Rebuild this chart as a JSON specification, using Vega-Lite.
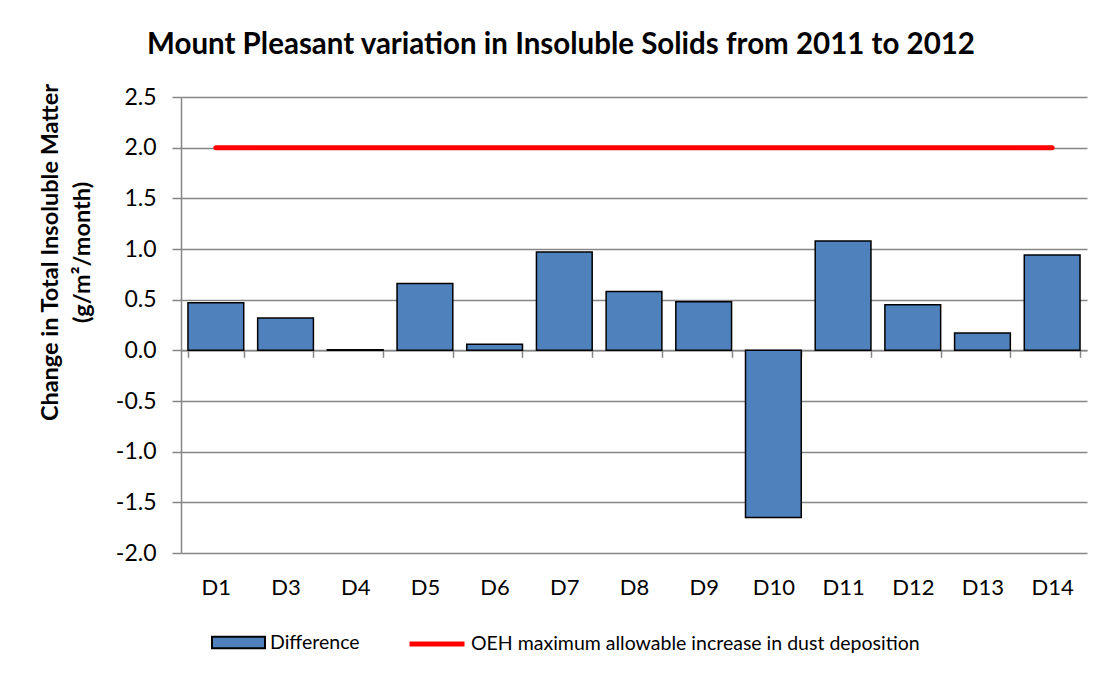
{
  "$schema": "https://vega.github.io/schema/vega-lite/v6.json",
  "width": 906,
  "height": 456,
  "autosize": "none",
  "padding": {"left": 181, "top": 97, "right": 22, "bottom": 121},
  "background": "white",
  "config": {
    "font": "Lato",
    "view": {"stroke": null},
    "axis": {"labelFont": "Lato", "titleFont": "Lato", "labelColor": "black", "titleColor": "black"}
  },
  "title": {
    "text": "Mount Pleasant variation in Insoluble Solids from 2011 to 2012",
    "font": "Lato",
    "fontSize": 29.5,
    "fontWeight": "bold",
    "color": "black",
    "anchor": "middle",
    "frame": "group",
    "dx": -73,
    "offset": 23
  },
  "data": {
    "values": [
      {"site": "D1", "Difference": 0.47, "limit": 2},
      {"site": "D3", "Difference": 0.32, "limit": 2},
      {"site": "D4", "Difference": 0.005, "limit": 2},
      {"site": "D5", "Difference": 0.66, "limit": 2},
      {"site": "D6", "Difference": 0.06, "limit": 2},
      {"site": "D7", "Difference": 0.97, "limit": 2},
      {"site": "D8", "Difference": 0.58, "limit": 2},
      {"site": "D9", "Difference": 0.48, "limit": 2},
      {"site": "D10", "Difference": -1.65, "limit": 2},
      {"site": "D11", "Difference": 1.08, "limit": 2},
      {"site": "D12", "Difference": 0.45, "limit": 2},
      {"site": "D13", "Difference": 0.17, "limit": 2},
      {"site": "D14", "Difference": 0.94, "limit": 2}
    ]
  },
  "encoding": {
    "x": {
      "field": "site",
      "type": "nominal",
      "sort": null,
      "scale": {"paddingInner": 0.2, "paddingOuter": 0.1},
      "axis": {
        "title": null,
        "labelAngle": 0,
        "labelFontSize": 22,
        "labelPadding": 220,
        "labelBaseline": "top",
        "offset": -202.7,
        "tickBand": "extent",
        "tickSize": 7,
        "tickColor": "#868686",
        "domainColor": "#868686",
        "domainWidth": 1.5,
        "tickWidth": 1.5,
        "grid": false
      }
    }
  },
  "layer": [
    {
      "mark": {"type": "bar", "stroke": "black", "strokeWidth": 1.5},
      "encoding": {
        "y": {
          "field": "Difference",
          "type": "quantitative",
          "scale": {"domain": [-2, 2.5], "nice": false},
          "axis": {
            "values": [-2, -1.5, -1, -0.5, 0, 0.5, 1, 1.5, 2, 2.5],
            "labelExpr": "replace(format(datum.value, '.1f'), '\u2212', '-')",
            "labelFontSize": 23,
            "labelPadding": 16,
            "tickSize": 9,
            "tickColor": "#868686",
            "domainColor": "#868686",
            "domainWidth": 1.5,
            "tickWidth": 1.5,
            "gridColor": "#868686",
            "gridWidth": 1.5,
            "title": ["Change in Total Insoluble Matter", "(g/m²/month)"],
            "titleFontSize": 23.5,
            "titleFontWeight": "bold",
            "titleAngle": -90,
            "titleAlign": "center",
            "titleBaseline": "middle",
            "titleLineHeight": 32,
            "titleX": -131,
            "titleY": 155
          }
        },
        "fill": {
          "datum": "Difference",
          "type": "nominal",
          "scale": {"domain": ["Difference"], "range": ["#4F81BD"]},
          "legend": {
            "orient": "none",
            "legendX": 30,
            "legendY": 518,
            "title": null,
            "labelFont": "Lato",
            "labelFontSize": 19.5,
            "labelColor": "black",
            "labelLimit": 0,
            "symbolType": "M-1,-0.22H1V0.22H-1Z",
            "symbolSize": 2809,
            "symbolStrokeColor": "black",
            "symbolStrokeWidth": 2,
            "symbolOpacity": 1,
            "labelOffset": 4
          }
        }
      }
    },
    {
      "mark": {"type": "line", "strokeWidth": 5, "strokeCap": "round"},
      "encoding": {
        "y": {"field": "limit", "type": "quantitative"},
        "stroke": {
          "datum": "OEH maximum allowable increase in dust deposition",
          "type": "nominal",
          "scale": {"domain": ["OEH maximum allowable increase in dust deposition"], "range": ["#FF0000"]},
          "legend": {
            "orient": "none",
            "legendX": 226,
            "legendY": 517,
            "title": null,
            "labelFont": "Lato",
            "labelFontSize": 19.5,
            "labelColor": "black",
            "labelLimit": 0,
            "symbolType": "stroke",
            "symbolSize": 3025,
            "symbolStrokeWidth": 5,
            "symbolOpacity": 1,
            "labelOffset": 4
          }
        }
      }
    }
  ]
}
